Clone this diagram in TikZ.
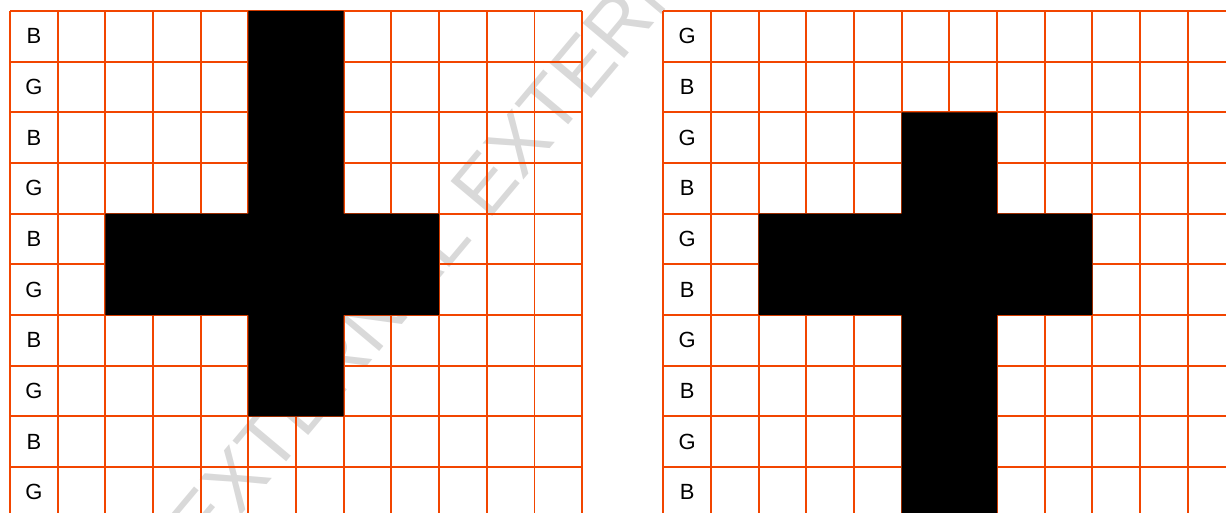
\documentclass[tikz,border=0pt]{standalone}
\usepackage{fontspec}
\setmainfont{Liberation Sans}
\definecolor{gridorange}{RGB}{242,69,0}
\definecolor{markgray}{RGB}{217,217,217}
\tikzset{
  gridline/.style={gridorange, line width=1pt},
  rowlabel/.style={font=\fontsize{12.5}{14}\selectfont},
  watermark/.style={markgray, font=\fontsize{45}{54}\selectfont, rotate=50, anchor=base west, inner sep=0pt}
}
\begin{document}
\begin{tikzpicture}
    \useasboundingbox (0,0) rectangle (24.52,-10.26);
    \clip (0,0) rectangle (24.52,-10.26);
    \node[watermark] (mark) at (4.11,-11.17) {EXTERNAL EXTERNAL};
    % left grid
    \begin{scope}[shift={(0.2,-0.22)}, x=0.9534cm, y=-1.0134cm]
        \foreach \c in {0,...,12} \draw[gridline] (\c,0) -- (\c,10.2);
        \foreach \r in {0,...,10} \draw[gridline] (0,\r) -- (12,\r);
        \fill (5,0) -- (7,0) -- (7,4) -- (9,4) -- (9,6) -- (7,6) -- (7,8) -- (5,8)
            -- (5,6) -- (2,6) -- (2,4) -- (5,4) -- cycle;
        \foreach \r/\lbl in {0/B,1/G,2/B,3/G,4/B,5/G,6/B,7/G,8/B,9/G}
            \node[rowlabel] (left\r) at (0.5,\r+0.5) {\lbl};
    \end{scope}
    % right grid
    \begin{scope}[shift={(13.266,-0.22)}, x=0.9534cm, y=-1.0134cm]
        \foreach \c in {0,...,12} \draw[gridline] (\c,0) -- (\c,10.2);
        \foreach \r in {0,...,10} \draw[gridline] (0,\r) -- (12,\r);
        \fill (5,2) -- (7,2) -- (7,4) -- (9,4) -- (9,6) -- (7,6) -- (7,10.5) -- (5,10.5)
            -- (5,6) -- (2,6) -- (2,4) -- (5,4) -- cycle;
        \foreach \r/\lbl in {0/G,1/B,2/G,3/B,4/G,5/B,6/G,7/B,8/G,9/B}
            \node[rowlabel] (right\r) at (0.5,\r+0.5) {\lbl};
    \end{scope}
\end{tikzpicture}
\end{document}
